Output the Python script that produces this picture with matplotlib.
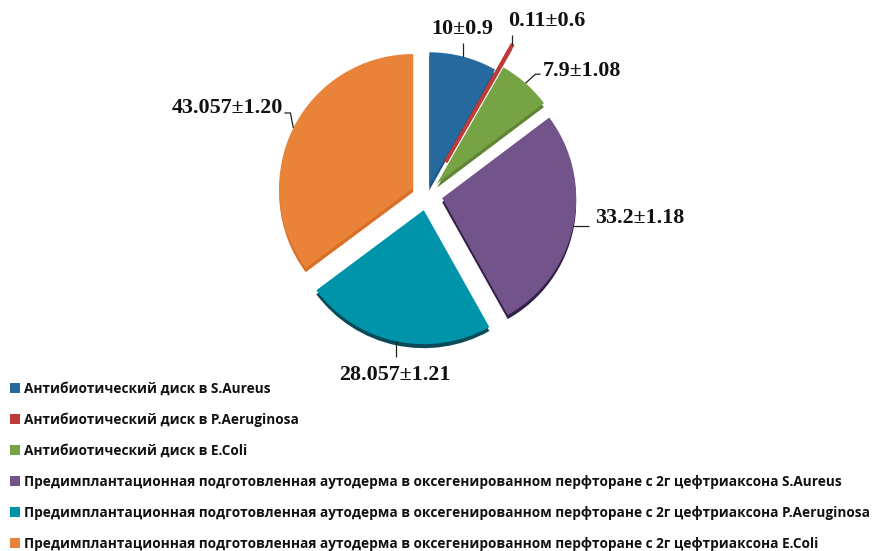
import matplotlib
matplotlib.use("Agg")
import matplotlib.pyplot as plt
import numpy as np

values = [10, 0.11, 7.9, 33.2, 28.057, 43.057]
value_labels = ["10±0.9", "0.11±0.6", "7.9±1.08", "33.2±1.18", "28.057±1.21", "43.057±1.20"]
series = [
    "Антибиотический диск в S.Aureus",
    "Антибиотический диск в P.Aeruginosa",
    "Антибиотический диск в E.Coli",
    "Предимплантационная подготовленная аутодерма в оксегенированном перфторане с 2г цефтриаксона S.Aureus",
    "Предимплантационная подготовленная аутодерма в оксегенированном перфторане с 2г цефтриаксона P.Aeruginosa",
    "Предимплантационная подготовленная аутодерма в оксегенированном перфторане с 2г цефтриаксона E.Coli",
]
colors = ["#25699F", "#BD3B38", "#76A344", "#72548A", "#0094AB", "#E98339"]
side_colors = ["#1B5582", "#A52F2C", "#5F8636", "#33204A", "#0B4A58", "#D96F25"]
explode_px = [9, 38, 15, 15.5, 15.5, 15.5]

W, H = 875, 551
CX, CY, R, DEPTH = 427, H - 195, 134, 4

fig = plt.figure(figsize=(W / 100, H / 100), dpi=100, facecolor="white")
ax = fig.add_axes([0, 0, 1, 1])

pie_kw = dict(explode=explode_px, radius=R, startangle=90, counterclock=False)
ax.pie(values, colors=side_colors, center=(CX, CY - DEPTH),
       wedgeprops=dict(linewidth=0), **pie_kw)
wedges, _ = ax.pie(values, colors=colors, center=(CX, CY),
                   wedgeprops=dict(linewidth=0), **pie_kw)

ax.set_xlim(0, W)
ax.set_ylim(0, H)
ax.set_aspect("equal")
ax.axis("off")

leg = ax.legend(wedges, series, loc="lower left", bbox_to_anchor=(10 / W, 0 / H),
                bbox_transform=ax.transAxes, frameon=False, handlelength=0.72, handleheight=0.72,
                handletextpad=0.3, labelspacing=1.25, borderpad=0, borderaxespad=0,
                prop=dict(family="Open Sans", weight="bold", size=9.8),
                labelcolor="#111111")

# the sliver is drawn wider than its true angle, as in the reference
wedges[1].set_edgecolor(colors[1])
wedges[1].set_linewidth(2.4)
wedges[1].set_zorder(wedges[0].get_zorder() + 0.2)
wedges[2].set_zorder(wedges[0].get_zorder() + 0.5)

# leader elbows (pixel offsets from the rim point) and label anchors
leaders = [
    [(0, 14)],
    [(0, 10)],
    [(10, 9), (15, 9)],
    [(16, 0)],
    [(0, -16)],
    [(-3, 15), (-9, 15)],
]
anchors = [
    (462, 29, "center"),
    (508, 21, "left"),
    (543, 71, "left"),
    (595, 218, "left"),
    (395, 375, "center"),
    (283, 108, "right"),
]
for w, elbow, (tx, ty, ha), lab in zip(wedges, leaders, anchors, value_labels):
    mid = np.deg2rad((w.theta1 + w.theta2) / 2)
    x0 = w.center[0] + w.r * np.cos(mid)
    y0 = w.center[1] + w.r * np.sin(mid)
    ax.plot([x0] + [x0 + d[0] for d in elbow], [y0] + [y0 + d[1] for d in elbow],
            color="#222222", lw=0.9, solid_capstyle="butt", zorder=6)
    ax.text(tx, H - ty, lab, ha=ha, va="center", fontsize=15.8, fontweight="bold",
            family="Liberation Serif", color="#111111", zorder=7)

fig.savefig("out.png", dpi=100, facecolor="white")
